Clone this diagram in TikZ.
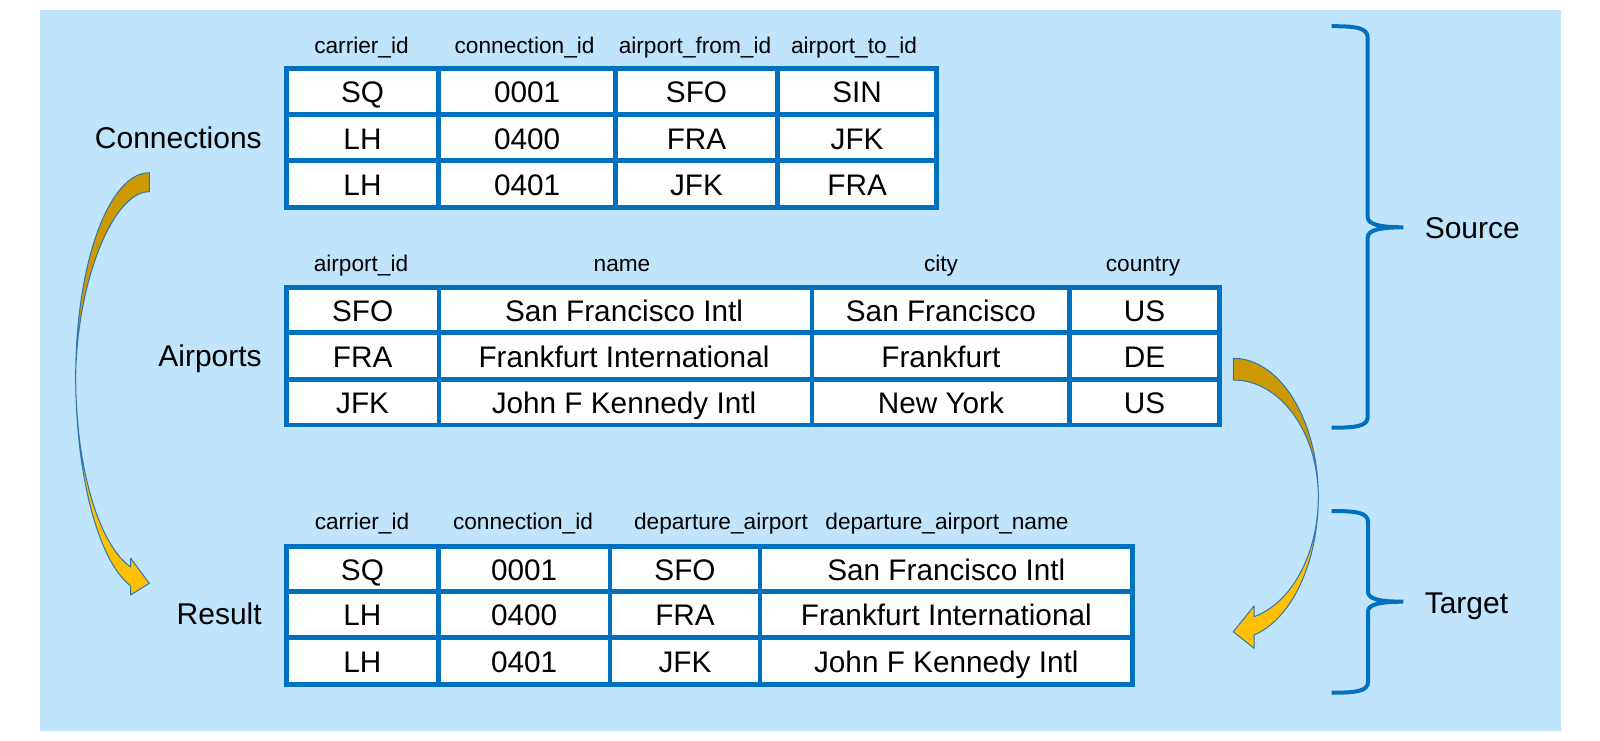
\documentclass[tikz,border=0pt]{standalone}
\usepackage{fontspec}
\setmainfont{Liberation Sans}
\definecolor{bgblue}{RGB}{192,228,252}
\definecolor{tblue}{RGB}{0,112,192}
\definecolor{aline}{RGB}{46,117,182}
\definecolor{gdark}{RGB}{204,153,0}
\definecolor{gbright}{RGB}{255,192,0}
\tikzset{
  cell/.style={font=\fontsize{22.3}{26}\selectfont, anchor=base, inner sep=0pt},
  hdr/.style={font=\fontsize{17}{20}\selectfont, anchor=base, inner sep=0pt},
  lbl/.style={font=\fontsize{22.5}{27}\selectfont, anchor=base east, inner sep=0pt},
  side/.style={font=\fontsize{22.5}{27}\selectfont, anchor=base west, inner sep=0pt},
  gridline/.style={draw=tblue, line width=3.5pt},
  tablebox/.style={draw=tblue, line width=3.5pt, fill=white},
  bracepath/.style={draw=tblue, line width=3pt},
  backband/.style={fill=gdark, draw=aline, line width=0.75pt, line join=round},
  frontband/.style={fill=gbright, draw=aline, line width=0.75pt, line join=round},
}
\begin{document}
\begin{tikzpicture}[x=0.75pt,y=-0.75pt]
\useasboundingbox (0,0) rectangle (1600,741);
\fill[white] (0,0) rectangle (1600,741);
\fill[bgblue] (40,10) rectangle (1561,731);

% ---------- Table 1: Connections ----------
\path[tablebox] (286.3,68.3) rectangle (936.7,207.7);
\foreach \y in {114.7,160.5} \draw[gridline] (286.3,\y) -- (936.7,\y);
\foreach \x in {438.8,615.5,777.6} \draw[gridline] (\x,68.3) -- (\x,207.7);
\node[hdr] (h1a) at (361.5,53.3) {carrier\_id};
\node[hdr] (h1b) at (524.6,53.3) {connection\_id};
\node[hdr] (h1c) at (695,53.3) {airport\_from\_id};
\node[hdr] (h1d) at (854,53.3) {airport\_to\_id};
\node[cell] (c11) at (362.5,103) {SQ};
\node[cell] (c12) at (527.1,103) {0001};
\node[cell] (c13) at (696.5,103) {SFO};
\node[cell] (c14) at (857.1,103) {SIN};
\node[cell] (c21) at (362.5,149.1) {LH};
\node[cell] (c22) at (527.1,149.1) {0400};
\node[cell] (c23) at (696.5,149.1) {FRA};
\node[cell] (c24) at (857.1,149.1) {JFK};
\node[cell] (c31) at (362.5,195.6) {LH};
\node[cell] (c32) at (527.1,195.6) {0401};
\node[cell] (c33) at (696.5,195.6) {JFK};
\node[cell] (c34) at (857.1,195.6) {FRA};
\node[lbl] (lconn) at (262,148.3) {Connections};

% ---------- Table 2: Airports ----------
\path[tablebox] (286.3,287.3) rectangle (1219.4,425);
\foreach \y in {332.5,379.2} \draw[gridline] (286.3,\y) -- (1219.4,\y);
\foreach \x in {439,812,1069.8} \draw[gridline] (\x,287.3) -- (\x,425);
\node[hdr] (h2a) at (361,271.5) {airport\_id};
\node[hdr] (h2b) at (622,271.5) {name};
\node[hdr] (h2c) at (941,271.5) {city};
\node[hdr] (h2d) at (1143,271.5) {country};
\node[cell] (d11) at (362.6,321.4) {SFO};
\node[cell] (d12) at (624,321.4) {San Francisco Intl};
\node[cell] (d13) at (940.9,321.4) {San Francisco};
\node[cell] (d14) at (1144.6,321.4) {US};
\node[cell] (d21) at (362.6,367.4) {FRA};
\node[cell] (d22) at (624,367.4) {Frankfurt International};
\node[cell] (d23) at (940.9,367.4) {Frankfurt};
\node[cell] (d24) at (1144.6,367.4) {DE};
\node[cell] (d31) at (362.6,413.6) {JFK};
\node[cell] (d32) at (624,413.6) {John F Kennedy Intl};
\node[cell] (d33) at (940.9,413.6) {New York};
\node[cell] (d34) at (1144.6,413.6) {US};
\node[lbl] (lair) at (262,366.7) {Airports};

% ---------- Table 3: Result ----------
\path[tablebox] (286.3,546.3) rectangle (1132.7,684.3);
\foreach \y in {591.2,637.2} \draw[gridline] (286.3,\y) -- (1132.7,\y);
\foreach \x in {438.5,610,759.9} \draw[gridline] (\x,546.3) -- (\x,684.3);
\node[hdr] (h3a) at (362,529.3) {carrier\_id};
\node[hdr] (h3b) at (523,529.3) {connection\_id};
\node[hdr] (h3c) at (721,529.3) {departure\_airport};
\node[hdr] (h3d) at (947,529.3) {departure\_airport\_name};
\node[cell] (e11) at (362.4,580.3) {SQ};
\node[cell] (e12) at (524.2,580.3) {0001};
\node[cell] (e13) at (685,580.3) {SFO};
\node[cell] (e14) at (946.3,580.3) {San Francisco Intl};
\node[cell] (e21) at (362.4,625.7) {LH};
\node[cell] (e22) at (524.2,625.7) {0400};
\node[cell] (e23) at (685,625.7) {FRA};
\node[cell] (e24) at (946.3,625.7) {Frankfurt International};
\node[cell] (e31) at (362.4,672.3) {LH};
\node[cell] (e32) at (524.2,672.3) {0401};
\node[cell] (e33) at (685,672.3) {JFK};
\node[cell] (e34) at (946.3,672.3) {John F Kennedy Intl};
\node[lbl] (lres) at (262,624) {Result};

% ---------- Braces ----------
\draw[bracepath] (1331.7,26.2) .. controls (1356,26.2) and (1367.7,27.7) .. (1367.7,38)
  -- (1367.7,217) .. controls (1367.7,224.5) and (1380,227.3) .. (1403.3,227.3)
  .. controls (1380,227.3) and (1367.7,230) .. (1367.7,237.5)
  -- (1367.7,417) .. controls (1367.7,426.2) and (1356,427.7) .. (1331.7,427.7);
\node[side] (lsrc) at (1424.5,238.8) {Source};

\draw[bracepath] (1331.7,511) .. controls (1356,511) and (1368,512.5) .. (1368,522)
  -- (1368,592) .. controls (1368,599) and (1380,601.7) .. (1403.3,601.7)
  .. controls (1380,601.7) and (1368,604.4) .. (1368,611.4)
  -- (1368,682) .. controls (1368,691.2) and (1356,692.7) .. (1331.7,692.7);
\node[side] (ltgt) at (1424.5,613.3) {Target};

% ---------- Left curved arrow ----------
\path[backband] (149.3,172.7) .. controls (108.7,172.7) and (75.7,264.1) .. (75.7,376.7)
  .. controls (76.5,285) and (112,191.7) .. (149.3,191.7) -- cycle;
\path[frontband] (75.7,376.7) .. controls (75.7,475) and (98.3,561.2) .. (130.7,586)
  -- (130.7,595) -- (149.3,583.3) -- (130.7,558.3) -- (130.7,567)
  .. controls (98.3,544.4) and (75.7,466.2) .. cycle;

% ---------- Right curved arrow ----------
\path[backband] (1233.3,358.3) .. controls (1280.2,358.3) and (1318.3,420.4) .. (1318.3,497)
  .. controls (1318.3,432.4) and (1280.2,380) .. (1233.3,380) -- cycle;
\path[frontband] (1318.3,497) .. controls (1318.3,562.2) and (1291.8,619.1) .. (1254,635)
  -- (1254,648.3) -- (1233.3,631.7) -- (1254,606) -- (1254,616.7)
  .. controls (1291.8,603) and (1318.3,553.5) .. cycle;
\end{tikzpicture}
\end{document}
